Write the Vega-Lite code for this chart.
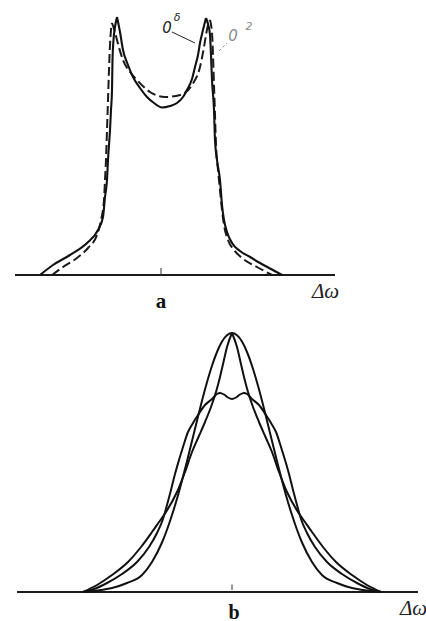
{
  "$schema": "https://vega.github.io/schema/vega-lite/v6.json",
  "background": "white",
  "padding": 0,
  "spacing": 0,
  "config": {"view": {"stroke": null}},
  "datasets": {
    "aSolid": [
      {"part": "L", "x": -3.025, "y": 0}, {"part": "L", "x": -2.7, "y": 0.04}, {"part": "L", "x": -2.275, "y": 0.08},
      {"part": "L", "x": -1.85, "y": 0.128}, {"part": "L", "x": -1.575, "y": 0.18}, {"part": "L", "x": -1.45, "y": 0.232},
      {"part": "L", "x": -1.4, "y": 0.312}, {"part": "L", "x": -1.35, "y": 0.38}, {"part": "L", "x": -1.325, "y": 0.46},
      {"part": "L", "x": -1.275, "y": 0.58}, {"part": "L", "x": -1.25, "y": 0.66}, {"part": "L", "x": -1.225, "y": 0.74},
      {"part": "L", "x": -1.2125, "y": 0.86}, {"part": "L", "x": -1.1875, "y": 0.94}, {"part": "L", "x": -1.15, "y": 0.992},
      {"part": "L", "x": -1.1, "y": 1.032},
      {"part": "M", "x": -1.1, "y": 1.032}, {"part": "M", "x": -1.025, "y": 0.972}, {"part": "M", "x": -0.95, "y": 0.9},
      {"part": "M", "x": -0.825, "y": 0.84}, {"part": "M", "x": -0.7, "y": 0.792}, {"part": "M", "x": -0.525, "y": 0.748},
      {"part": "M", "x": -0.35, "y": 0.712}, {"part": "M", "x": -0.175, "y": 0.688}, {"part": "M", "x": 0.025, "y": 0.67},
      {"part": "M", "x": 0.225, "y": 0.676}, {"part": "M", "x": 0.4, "y": 0.688}, {"part": "M", "x": 0.55, "y": 0.712},
      {"part": "M", "x": 0.65, "y": 0.74}, {"part": "M", "x": 0.775, "y": 0.784}, {"part": "M", "x": 0.85, "y": 0.832},
      {"part": "M", "x": 0.925, "y": 0.88}, {"part": "M", "x": 0.975, "y": 0.928}, {"part": "M", "x": 1.05, "y": 0.98},
      {"part": "M", "x": 1.125, "y": 1.028},
      {"part": "R", "x": 1.125, "y": 1.028}, {"part": "R", "x": 1.175, "y": 1.004}, {"part": "R", "x": 1.225, "y": 0.96},
      {"part": "R", "x": 1.25, "y": 0.88}, {"part": "R", "x": 1.275, "y": 0.78}, {"part": "R", "x": 1.325, "y": 0.66},
      {"part": "R", "x": 1.35, "y": 0.54}, {"part": "R", "x": 1.4, "y": 0.46}, {"part": "R", "x": 1.475, "y": 0.38},
      {"part": "R", "x": 1.525, "y": 0.28}, {"part": "R", "x": 1.575, "y": 0.22}, {"part": "R", "x": 1.65, "y": 0.172},
      {"part": "R", "x": 1.775, "y": 0.128}, {"part": "R", "x": 1.975, "y": 0.096}, {"part": "R", "x": 2.225, "y": 0.072},
      {"part": "R", "x": 2.475, "y": 0.048}, {"part": "R", "x": 2.75, "y": 0.024}, {"part": "R", "x": 3.025, "y": 0}
    ],
    "aDashed": [
      {"part": "L", "x": -2.725, "y": 0}, {"part": "L", "x": -2.45, "y": 0.032}, {"part": "L", "x": -2.1, "y": 0.068},
      {"part": "L", "x": -1.825, "y": 0.108}, {"part": "L", "x": -1.6, "y": 0.16}, {"part": "L", "x": -1.5, "y": 0.22},
      {"part": "L", "x": -1.425, "y": 0.3}, {"part": "L", "x": -1.4, "y": 0.38}, {"part": "L", "x": -1.375, "y": 0.46},
      {"part": "L", "x": -1.35, "y": 0.58}, {"part": "L", "x": -1.325, "y": 0.7}, {"part": "L", "x": -1.3, "y": 0.82},
      {"part": "L", "x": -1.275, "y": 0.92}, {"part": "L", "x": -1.25, "y": 0.98}, {"part": "L", "x": -1.225, "y": 1.008},
      {"part": "M", "x": -1.225, "y": 1.008}, {"part": "M", "x": -1.15, "y": 0.972}, {"part": "M", "x": -1.1, "y": 0.94},
      {"part": "M", "x": -0.95, "y": 0.86}, {"part": "M", "x": -0.775, "y": 0.812}, {"part": "M", "x": -0.6, "y": 0.78},
      {"part": "M", "x": -0.275, "y": 0.732}, {"part": "M", "x": 0.1, "y": 0.712}, {"part": "M", "x": 0.475, "y": 0.72},
      {"part": "M", "x": 0.775, "y": 0.76}, {"part": "M", "x": 0.975, "y": 0.832}, {"part": "M", "x": 1.075, "y": 0.912},
      {"part": "M", "x": 1.125, "y": 0.96}, {"part": "M", "x": 1.175, "y": 1.0}, {"part": "M", "x": 1.225, "y": 1.02},
      {"part": "R", "x": 1.225, "y": 1.02}, {"part": "R", "x": 1.275, "y": 0.968}, {"part": "R", "x": 1.3, "y": 0.88},
      {"part": "R", "x": 1.325, "y": 0.76}, {"part": "R", "x": 1.35, "y": 0.64}, {"part": "R", "x": 1.375, "y": 0.52},
      {"part": "R", "x": 1.425, "y": 0.42}, {"part": "R", "x": 1.475, "y": 0.34}, {"part": "R", "x": 1.525, "y": 0.26},
      {"part": "R", "x": 1.575, "y": 0.2}, {"part": "R", "x": 1.675, "y": 0.14}, {"part": "R", "x": 1.825, "y": 0.1},
      {"part": "R", "x": 2.025, "y": 0.068}, {"part": "R", "x": 2.4, "y": 0.032}, {"part": "R", "x": 2.775, "y": 0}
    ],
    "bCurves": [
      {"curve": "C-left", "x": 0, "y": 1.036}, {"curve": "C-left", "x": -0.125, "y": 0.98}, {"curve": "C-left", "x": -0.2125, "y": 0.92},
      {"curve": "C-left", "x": -0.3, "y": 0.86}, {"curve": "C-left", "x": -0.4, "y": 0.8}, {"curve": "C-left", "x": -0.525, "y": 0.74},
      {"curve": "C-left", "x": -0.675, "y": 0.68}, {"curve": "C-left", "x": -0.8375, "y": 0.62}, {"curve": "C-left", "x": -1.0, "y": 0.56},
      {"curve": "C-left", "x": -1.175, "y": 0.48}, {"curve": "C-left", "x": -1.375, "y": 0.4}, {"curve": "C-left", "x": -1.65, "y": 0.32},
      {"curve": "C-left", "x": -1.825, "y": 0.28}, {"curve": "C-left", "x": -2.0, "y": 0.24}, {"curve": "C-left", "x": -2.275, "y": 0.18},
      {"curve": "C-left", "x": -2.6, "y": 0.12}, {"curve": "C-left", "x": -3.0, "y": 0.068}, {"curve": "C-left", "x": -3.375, "y": 0.028},
      {"curve": "C-left", "x": -3.725, "y": 0},
      {"curve": "C-right", "x": 0, "y": 1.036}, {"curve": "C-right", "x": 0.125, "y": 0.98}, {"curve": "C-right", "x": 0.2125, "y": 0.92},
      {"curve": "C-right", "x": 0.3, "y": 0.86}, {"curve": "C-right", "x": 0.4, "y": 0.8}, {"curve": "C-right", "x": 0.525, "y": 0.74},
      {"curve": "C-right", "x": 0.675, "y": 0.68}, {"curve": "C-right", "x": 0.8375, "y": 0.62}, {"curve": "C-right", "x": 1.0, "y": 0.56},
      {"curve": "C-right", "x": 1.175, "y": 0.48}, {"curve": "C-right", "x": 1.375, "y": 0.4}, {"curve": "C-right", "x": 1.65, "y": 0.32},
      {"curve": "C-right", "x": 1.825, "y": 0.28}, {"curve": "C-right", "x": 2.0, "y": 0.24}, {"curve": "C-right", "x": 2.275, "y": 0.18},
      {"curve": "C-right", "x": 2.6, "y": 0.12}, {"curve": "C-right", "x": 3.0, "y": 0.068}, {"curve": "C-right", "x": 3.375, "y": 0.028},
      {"curve": "C-right", "x": 3.725, "y": 0},
      {"curve": "R", "x": -3.725, "y": 0}, {"curve": "R", "x": -3.375, "y": 0.006}, {"curve": "R", "x": -3.0, "y": 0.016},
      {"curve": "R", "x": -2.625, "y": 0.036}, {"curve": "R", "x": -2.25, "y": 0.068}, {"curve": "R", "x": -2.0, "y": 0.12},
      {"curve": "R", "x": -1.75, "y": 0.198}, {"curve": "R", "x": -1.625, "y": 0.249}, {"curve": "R", "x": -1.5, "y": 0.308},
      {"curve": "R", "x": -1.375, "y": 0.373}, {"curve": "R", "x": -1.25, "y": 0.446}, {"curve": "R", "x": -1.125, "y": 0.523},
      {"curve": "R", "x": -1.0, "y": 0.604}, {"curve": "R", "x": -0.875, "y": 0.685}, {"curve": "R", "x": -0.75, "y": 0.765},
      {"curve": "R", "x": -0.625, "y": 0.839}, {"curve": "R", "x": -0.5, "y": 0.905}, {"curve": "R", "x": -0.375, "y": 0.96},
      {"curve": "R", "x": -0.25, "y": 1.002}, {"curve": "R", "x": -0.125, "y": 1.027}, {"curve": "R", "x": 0, "y": 1.036},
      {"curve": "R", "x": 0.125, "y": 1.027}, {"curve": "R", "x": 0.25, "y": 1.002}, {"curve": "R", "x": 0.375, "y": 0.96},
      {"curve": "R", "x": 0.5, "y": 0.905}, {"curve": "R", "x": 0.625, "y": 0.839}, {"curve": "R", "x": 0.75, "y": 0.765},
      {"curve": "R", "x": 0.875, "y": 0.685}, {"curve": "R", "x": 1.0, "y": 0.604}, {"curve": "R", "x": 1.125, "y": 0.523},
      {"curve": "R", "x": 1.25, "y": 0.446}, {"curve": "R", "x": 1.375, "y": 0.373}, {"curve": "R", "x": 1.5, "y": 0.308},
      {"curve": "R", "x": 1.625, "y": 0.249}, {"curve": "R", "x": 1.75, "y": 0.198}, {"curve": "R", "x": 2.0, "y": 0.12},
      {"curve": "R", "x": 2.25, "y": 0.068}, {"curve": "R", "x": 2.625, "y": 0.036}, {"curve": "R", "x": 3.0, "y": 0.016},
      {"curve": "R", "x": 3.375, "y": 0.006}, {"curve": "R", "x": 3.725, "y": 0},
      {"curve": "F", "x": -3.725, "y": 0}, {"curve": "F", "x": -3.45, "y": 0.012}, {"curve": "F", "x": -3.125, "y": 0.036},
      {"curve": "F", "x": -2.75, "y": 0.072}, {"curve": "F", "x": -2.375, "y": 0.12}, {"curve": "F", "x": -2.075, "y": 0.18},
      {"curve": "F", "x": -1.875, "y": 0.236}, {"curve": "F", "x": -1.725, "y": 0.292}, {"curve": "F", "x": -1.625, "y": 0.348},
      {"curve": "F", "x": -1.525, "y": 0.408}, {"curve": "F", "x": -1.425, "y": 0.472}, {"curve": "F", "x": -1.325, "y": 0.528},
      {"curve": "F", "x": -1.225, "y": 0.58}, {"curve": "F", "x": -1.1, "y": 0.64}, {"curve": "F", "x": -0.975, "y": 0.676},
      {"curve": "F", "x": -0.85, "y": 0.708}, {"curve": "F", "x": -0.675, "y": 0.748}, {"curve": "F", "x": -0.5, "y": 0.772},
      {"curve": "F", "x": -0.375, "y": 0.792}, {"curve": "F", "x": -0.3, "y": 0.796}, {"curve": "F", "x": -0.2, "y": 0.79},
      {"curve": "F", "x": -0.1, "y": 0.778}, {"curve": "F", "x": 0, "y": 0.772}, {"curve": "F", "x": 0.1, "y": 0.778},
      {"curve": "F", "x": 0.2, "y": 0.79}, {"curve": "F", "x": 0.3, "y": 0.796}, {"curve": "F", "x": 0.375, "y": 0.792},
      {"curve": "F", "x": 0.5, "y": 0.772}, {"curve": "F", "x": 0.675, "y": 0.748}, {"curve": "F", "x": 0.85, "y": 0.708},
      {"curve": "F", "x": 0.975, "y": 0.676}, {"curve": "F", "x": 1.1, "y": 0.64}, {"curve": "F", "x": 1.225, "y": 0.58},
      {"curve": "F", "x": 1.325, "y": 0.528}, {"curve": "F", "x": 1.425, "y": 0.472}, {"curve": "F", "x": 1.525, "y": 0.408},
      {"curve": "F", "x": 1.625, "y": 0.348}, {"curve": "F", "x": 1.725, "y": 0.292}, {"curve": "F", "x": 1.875, "y": 0.236},
      {"curve": "F", "x": 2.075, "y": 0.18}, {"curve": "F", "x": 2.375, "y": 0.12}, {"curve": "F", "x": 2.75, "y": 0.072},
      {"curve": "F", "x": 3.125, "y": 0.036}, {"curve": "F", "x": 3.45, "y": 0.012}, {"curve": "F", "x": 3.725, "y": 0}
    ]
  },
  "vconcat": [
    {
      "width": 426,
      "height": 310,
      "encoding": {
        "x": {"field": "x", "type": "quantitative", "scale": {"domain": [-4.025, 6.625], "nice": false, "zero": false}, "axis": null},
        "y": {"field": "y", "type": "quantitative", "scale": {"domain": [-0.14, 1.1], "nice": false, "zero": false}, "axis": null}
      },
      "layer": [
        {
          "data": {"values": [{"x": -3.65, "y": 0}, {"x": 4.35, "y": 0}]},
          "mark": {"type": "line", "color": "#1a1a1a", "strokeWidth": 1.8},
          "encoding": {}
        },
        {
          "data": {"values": [{"x": 0, "y": 0, "y2": 0.028}]},
          "mark": {"type": "rule", "color": "#333", "strokeWidth": 1},
          "encoding": {"y2": {"field": "y2"}}
        },
        {
          "data": {"name": "aDashed"},
          "mark": {"type": "line", "interpolate": "monotone", "color": "#1a1a1a", "strokeWidth": 2, "strokeDash": [9, 4]},
          "encoding": {"detail": {"field": "part"}}
        },
        {
          "data": {"name": "aSolid"},
          "mark": {"type": "line", "interpolate": "monotone", "color": "#111", "strokeWidth": 2.1},
          "encoding": {"detail": {"field": "part"}}
        },
        {
          "data": {"values": [
            {"lead": "0δ", "x": 0.275, "y": 0.972}, {"lead": "0δ", "x": 0.85, "y": 0.928}
          ]},
          "mark": {"type": "line", "color": "#222", "strokeWidth": 1},
          "encoding": {"detail": {"field": "lead"}}
        },
        {
          "data": {"values": [
            {"lead": "02", "x": 1.45, "y": 0.896}, {"lead": "02", "x": 1.65, "y": 0.928}
          ]},
          "mark": {"type": "line", "color": "#999", "strokeWidth": 1, "strokeDash": [3, 2]},
          "encoding": {"detail": {"field": "lead"}}
        },
        {
          "data": {"values": [{"t": "0", "x": 0.15, "y": 0.988}]},
          "mark": {"type": "text", "font": "DejaVu Sans", "fontStyle": "italic", "fontSize": 15, "color": "#222", "baseline": "middle"},
          "encoding": {"text": {"field": "t"}}
        },
        {
          "data": {"values": [{"t": "δ", "x": 0.4, "y": 1.028}]},
          "mark": {"type": "text", "font": "DejaVu Sans", "fontStyle": "italic", "fontSize": 11, "color": "#222", "baseline": "middle"},
          "encoding": {"text": {"field": "t"}}
        },
        {
          "data": {"values": [{"t": "0", "x": 1.8, "y": 0.956}]},
          "mark": {"type": "text", "font": "DejaVu Sans", "fontStyle": "italic", "fontSize": 15, "color": "#8a8a8a", "baseline": "middle"},
          "encoding": {"text": {"field": "t"}}
        },
        {
          "data": {"values": [{"t": "2", "x": 2.2, "y": 0.992}]},
          "mark": {"type": "text", "font": "DejaVu Sans", "fontStyle": "italic", "fontSize": 11, "color": "#8a8a8a", "baseline": "middle"},
          "encoding": {"text": {"field": "t"}}
        },
        {
          "data": {"values": [{"t": "Δω", "x": 3.775, "y": -0.092}]},
          "mark": {"type": "text", "font": "Liberation Serif", "fontStyle": "italic", "fontSize": 21, "color": "#222", "align": "left", "baseline": "alphabetic"},
          "encoding": {"text": {"field": "t"}}
        },
        {
          "data": {"values": [{"t": "a", "x": 0, "y": -0.132}]},
          "mark": {"type": "text", "font": "Liberation Serif", "fontWeight": "bold", "fontSize": 21, "color": "#111", "align": "center", "baseline": "alphabetic"},
          "encoding": {"text": {"field": "t"}}
        }
      ]
    },
    {
      "width": 426,
      "height": 311,
      "encoding": {
        "x": {"field": "x", "type": "quantitative", "scale": {"domain": [-5.8, 4.85], "nice": false, "zero": false}, "axis": null},
        "y": {"field": "y", "type": "quantitative", "scale": {"domain": [-0.124, 1.12], "nice": false, "zero": false}, "axis": null}
      },
      "layer": [
        {
          "data": {"values": [{"x": -5.375, "y": 0}, {"x": 4.65, "y": 0}]},
          "mark": {"type": "line", "color": "#1a1a1a", "strokeWidth": 1.8},
          "encoding": {}
        },
        {
          "data": {"values": [{"x": 0, "y": 0.008, "y2": 0.03}]},
          "mark": {"type": "rule", "color": "#333", "strokeWidth": 1},
          "encoding": {"y2": {"field": "y2"}}
        },
        {
          "data": {"name": "bCurves"},
          "mark": {"type": "line", "interpolate": "monotone", "color": "#111", "strokeWidth": 2},
          "encoding": {"detail": {"field": "curve"}}
        },
        {
          "data": {"values": [{"t": "Δω", "x": 4.2, "y": -0.092}]},
          "mark": {"type": "text", "font": "Liberation Serif", "fontStyle": "italic", "fontSize": 21, "color": "#222", "align": "left", "baseline": "alphabetic", "clip": true},
          "encoding": {"text": {"field": "t"}}
        },
        {
          "data": {"values": [{"t": "b", "x": 0.05, "y": -0.106}]},
          "mark": {"type": "text", "font": "Liberation Serif", "fontWeight": "bold", "fontSize": 20, "color": "#111", "align": "center", "baseline": "alphabetic"},
          "encoding": {"text": {"field": "t"}}
        }
      ]
    }
  ]
}
